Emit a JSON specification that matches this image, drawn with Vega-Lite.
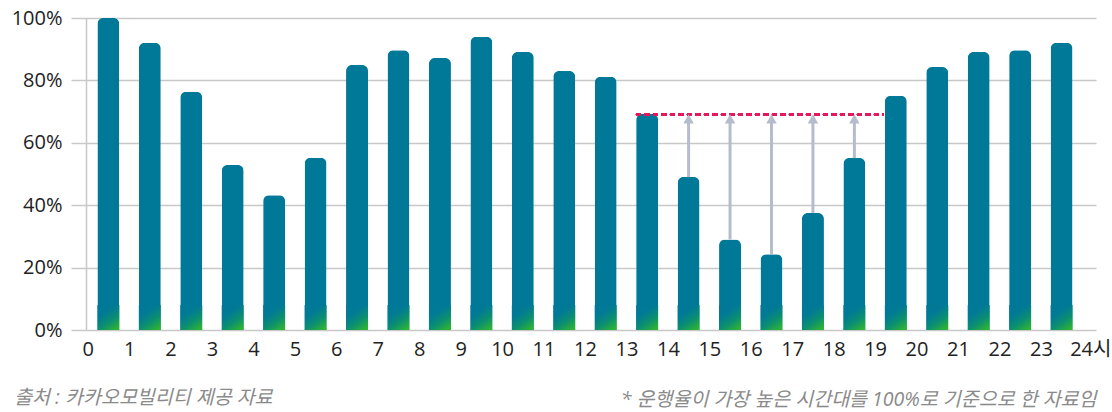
{
  "$schema": "https://vega.github.io/schema/vega-lite/v6.json",
  "width": 1010,
  "height": 312,
  "autosize": "none",
  "padding": {"left": 86, "top": 18, "right": 16, "bottom": 82},
  "background": "white",
  "config": {"view": {"stroke": null}, "font": "Open Sans, Noto Sans CJK KR"},
  "title": {
    "text": "출처 : 카카오모빌리티 제공 자료",
    "orient": "bottom",
    "anchor": "start",
    "frame": "bounds",
    "dx": 3,
    "offset": -19.5,
    "fontSize": 19.5,
    "fontStyle": "italic",
    "fontWeight": "normal",
    "color": "#8a8a8a",
    "font": "Open Sans, Noto Sans CJK KR"
  },
  "data": {
    "values": [
      {"start": 0, "rate": 100},
      {"start": 1, "rate": 92.1},
      {"start": 2, "rate": 76.4},
      {"start": 3, "rate": 52.9},
      {"start": 4, "rate": 43.2},
      {"start": 5, "rate": 55.2},
      {"start": 6, "rate": 84.9},
      {"start": 7, "rate": 89.7},
      {"start": 8, "rate": 87.2},
      {"start": 9, "rate": 94},
      {"start": 10, "rate": 89.1},
      {"start": 11, "rate": 83},
      {"start": 12, "rate": 81.2},
      {"start": 13, "rate": 69.2},
      {"start": 14, "rate": 49},
      {"start": 15, "rate": 29},
      {"start": 16, "rate": 24.3},
      {"start": 17, "rate": 37.5},
      {"start": 18, "rate": 55.1},
      {"start": 19, "rate": 75.1},
      {"start": 20, "rate": 84.3},
      {"start": 21, "rate": 89.1},
      {"start": 22, "rate": 89.7},
      {"start": 23, "rate": 92.1}
    ]
  },
  "encoding": {
    "x": {
      "field": "start",
      "type": "quantitative",
      "scale": {"domain": [-0.04, 24.33], "nice": false, "zero": false, "padding": 0},
      "axis": {
        "values": [0,1,2,3,4,5,6,7,8,9,10,11,12,13,14,15,16,17,18,19,20,21,22,23,24],
        "labelExpr": "datum.value == 24 ? '24시' : datum.label",
        "labelOffset": {"condition": {"test": "datum.value == 24", "value": 8}, "value": 0},
        "ticks": false,
        "domain": false,
        "grid": false,
        "labelPadding": 9,
        "labelFontSize": 20,
        "labelColor": "#222222",
        "title": "* 운행율이 가장 높은 시간대를 100%로 기준으로 한 자료임",
        "titleAnchor": "end",
        "titleFontSize": 19.5,
        "titleFontStyle": "italic",
        "titleFontWeight": "normal",
        "titleColor": "#8a8a8a",
        "titlePadding": 31
      }
    },
    "y": {
      "field": "rate",
      "type": "quantitative",
      "scale": {"domain": [0, 100], "nice": false},
      "axis": {
        "values": [0, 20, 40, 60, 80, 100],
        "labelExpr": "datum.value + '%'",
        "grid": true,
        "gridColor": "#c8c8c8",
        "gridWidth": 1.5,
        "tickSize": 15,
        "tickColor": "#c8c8c8",
        "tickWidth": 1.5,
        "domainColor": "#c8c8c8",
        "domainWidth": 1.5,
        "labelPadding": 9,
        "labelFontSize": 20,
        "labelColor": "#222222",
        "title": null
      }
    }
  },
  "layer": [
    {
      "mark": {"type": "bar", "orient": "vertical", "size": 22, "xOffset": 20.72, "color": "#007898", "cornerRadiusTopLeft": 6, "cornerRadiusTopRight": 6}
    },
    {
      "mark": {
        "type": "bar",
        "orient": "vertical",
        "size": 22,
        "xOffset": 20.72,
        "color": {
          "gradient": "linear",
          "x1": 0.2, "y1": 0, "x2": 0.8, "y2": 1,
          "stops": [
            {"offset": 0, "color": "#007898"},
            {"offset": 0.3, "color": "#017a95"},
            {"offset": 0.65, "color": "#0b8f70"},
            {"offset": 1, "color": "#2db236"}
          ]
        }
      },
      "encoding": {
        "y": {"datum": 8, "type": "quantitative"},
        "y2": {"datum": 0}
      }
    },
    {
      "mark": {"type": "rule", "color": "#e6185c", "strokeWidth": 2, "strokeDash": [5, 3.5]},
      "encoding": {
        "x": {"datum": 13.23, "type": "quantitative"},
        "x2": {"datum": 19.2},
        "y": {"datum": 69.1, "type": "quantitative"}
      }
    },
    {
      "transform": [{"filter": "datum.start >= 14 && datum.start <= 18"}],
      "mark": {"type": "rule", "color": "#b5bccb", "strokeWidth": 3, "xOffset": 20.72},
      "encoding": {
        "y2": {"datum": 67.5}
      }
    },
    {
      "transform": [{"filter": "datum.start >= 14 && datum.start <= 18"}],
      "mark": {"type": "point", "shape": "triangle-up", "filled": true, "opacity": 1, "size": 110, "color": "#b5bccb", "xOffset": 20.72, "yOffset": 4.5},
      "encoding": {
        "y": {"datum": 69.1, "type": "quantitative"}
      }
    }
  ]
}
